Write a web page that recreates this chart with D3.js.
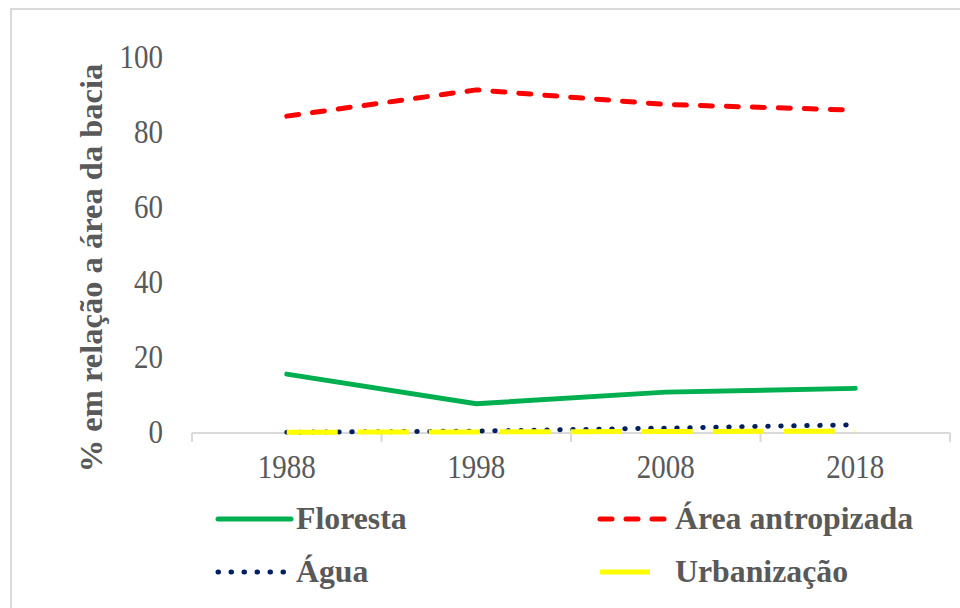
<!DOCTYPE html>
<html>
<head>
<meta charset="utf-8">
<script src="https://cdn.jsdelivr.net/npm/d3@7"></script>
<style>
  html, body { margin: 0; padding: 0; background: #fff; }
  svg { display: block; }
</style>
</head>
<body>
<svg id="chart" width="960" height="608"></svg>
<script>
// ---- data ----
const years = ["1988", "1998", "2008", "2018"];
const floresta = [15.7, 7.8, 10.9, 11.9];
const areaAntropizada = [84.5, 91.5, 87.6, 86.1];
const agua = [0.2, 0.5, 1.3, 2.2];
const urbanizacao = [0.2, 0.3, 0.4, 0.5];
const yTicks = [0, 20, 40, 60, 80, 100];
const seriesNames = ["Floresta", "Área antropizada", "Água", "Urbanização"];
const yTitle = "% em relação a área da bacia";

// ---- styles ----
const styles = {
  "Floresta": { color: "#00B050", width: 5, dash: null, cap: "round" },
  "Área antropizada": { color: "#FF0000", width: 5, dash: "12 14", cap: "round" },
  "Água": { color: "#002060", width: 5, dash: "0.5 12.5", cap: "round" },
  "Urbanização": { color: "#FFFF00", width: 5, dash: "51 20", cap: "butt" }
};
const seriesData = [floresta, areaAntropizada, agua, urbanizacao];

const svg = d3.select("#chart");
const textColor = "#595959";
const serif = "'Liberation Serif', 'Times New Roman', serif";

// outer border (top & left visible)
svg.append("path")
  .attr("d", "M11,608 L11,9 L960,9")
  .attr("fill", "none")
  .attr("stroke", "#d9d9d9")
  .attr("stroke-width", 2);

const plot = { left: 192, right: 950, top: 58, bottom: 433 };

const x = d3.scaleBand().domain(years).range([plot.left, plot.right]).padding(0);
const y = d3.scaleLinear().domain([0, 100]).range([plot.bottom, plot.top]);
const cx = d => x(d) + x.bandwidth() / 2;

// y axis labels (no line, no ticks)
const yAxis = d3.axisLeft(y).tickValues(yTicks).tickSize(0).tickPadding(0).tickFormat(d3.format("d"));
const gy = svg.append("g").attr("transform", `translate(${plot.left - 29},0)`).call(yAxis);
gy.select(".domain").remove();
gy.selectAll("text")
  .attr("font-family", serif)
  .attr("font-size", 29)
  .attr("fill", textColor)
  .attr("x", 0)
  .attr("dy", "0.32em")
  .attr("transform", "translate(0,-1) scale(1,1.15)");

// x axis line + ticks at band boundaries
const gx = svg.append("g");
gx.append("line")
  .attr("x1", plot.left).attr("x2", plot.right)
  .attr("y1", plot.bottom).attr("y2", plot.bottom)
  .attr("stroke", "#d9d9d9").attr("stroke-width", 2);
const boundaries = years.map(d => x(d)).concat([x(years[years.length - 1]) + x.bandwidth()]);
gx.selectAll("line.tick").data(boundaries).enter().append("line")
  .attr("class", "tick")
  .attr("x1", d => d).attr("x2", d => d)
  .attr("y1", plot.bottom).attr("y2", plot.bottom + 9)
  .attr("stroke", "#d9d9d9").attr("stroke-width", 2);
gx.selectAll("text").data(years).enter().append("text")
  .attr("transform", d => `translate(${cx(d)},478) scale(1,1.15)`)
  .attr("text-anchor", "middle")
  .attr("font-family", serif)
  .attr("font-size", 29)
  .attr("fill", textColor)
  .text(d => d);

// y axis title
svg.append("text")
  .attr("transform", `translate(102,268) rotate(-90)`)
  .attr("text-anchor", "middle")
  .attr("font-family", serif)
  .attr("font-weight", "bold")
  .attr("font-size", 32.5)
  .attr("fill", textColor)
  .text(yTitle);

// lines
const line = d3.line().x((d, i) => cx(years[i])).y(d => y(d));
seriesNames.forEach((name, k) => {
  const s = styles[name];
  svg.append("path")
    .datum(seriesData[k])
    .attr("d", line)
    .attr("fill", "none")
    .attr("stroke", s.color)
    .attr("stroke-width", s.width)
    .attr("stroke-linecap", s.cap)
    .attr("stroke-linejoin", "round")
    .attr("stroke-dasharray", s.dash);
});

// legend
const legendItems = [
  { name: "Floresta", lx1: 218, lx2: 291, tx: 296, ly: 519, ty: 529 },
  { name: "Área antropizada", lx1: 600, lx2: 668, tx: 675, ly: 519, ty: 529 },
  { name: "Água", lx1: 218, lx2: 291, tx: 296, ly: 572, ty: 582 },
  { name: "Urbanização", lx1: 600, lx2: 650, tx: 675, ly: 572, ty: 582 }
];
const lg = svg.append("g");
legendItems.forEach(it => {
  const s = styles[it.name];
  lg.append("line")
    .attr("x1", it.lx1).attr("x2", it.lx2)
    .attr("y1", it.ly).attr("y2", it.ly)
    .attr("stroke", s.color)
    .attr("stroke-width", s.width)
    .attr("stroke-linecap", s.cap)
    .attr("stroke-dasharray", s.dash);
  lg.append("text")
    .attr("x", it.tx).attr("y", it.ty)
    .attr("font-family", serif)
    .attr("font-weight", "bold")
    .attr("font-size", 31.8)
    .attr("fill", textColor)
    .text(it.name);
});
</script>
</body>
</html>
